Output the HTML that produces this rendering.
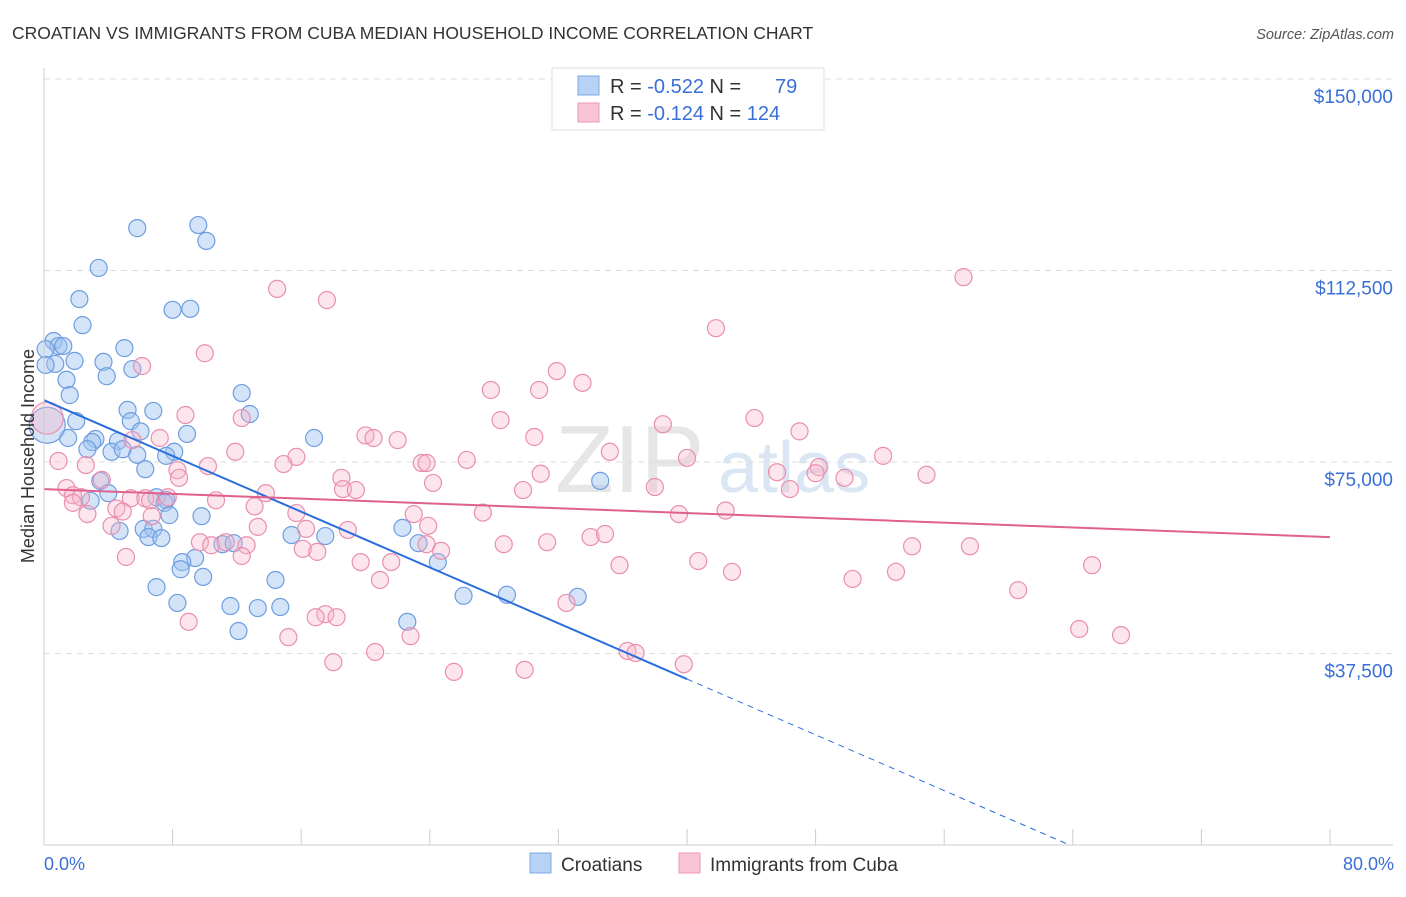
<!DOCTYPE html>
<html><head><meta charset="utf-8"><style>
body{margin:0;background:#fff;font-family:"Liberation Sans",sans-serif;}
svg text{font-family:"Liberation Sans",sans-serif;}
</style></head><body>
<svg id="chart" width="1406" height="892" xmlns="http://www.w3.org/2000/svg">
<text x="12" y="39" font-size="17.5" fill="#333">CROATIAN VS IMMIGRANTS FROM CUBA MEDIAN HOUSEHOLD INCOME CORRELATION CHART</text>
<text x="1394" y="39" font-size="14.5" fill="#555" font-style="italic" text-anchor="end">Source: ZipAtlas.com</text>
<text x="555" y="492" font-size="96" fill="#e6e6e6" font-family="Liberation Serif">ZIP</text>
<text x="718" y="492" font-size="72" fill="#dbe6f5">atlas</text>
<g id="grid"></g><g id="pts"></g><g id="lines"></g><g id="axes"></g>
<text transform="translate(34,456) rotate(-90)" font-size="18" fill="#333" text-anchor="middle">Median Household Income</text>
<text x="44" y="870" font-size="18" fill="#3a6fd8">0.0%</text>
<text x="1394" y="870" font-size="18" fill="#3a6fd8" text-anchor="end">80.0%</text>
<g>
<rect x="552" y="68" width="272" height="62" fill="#fff" stroke="#ddd"/>
<rect x="578" y="76" width="21" height="19" fill="#b7d2f5" stroke="#7fa8e3"/>
<rect x="578" y="103" width="21" height="19" fill="#f9c5d4" stroke="#ec9ab4"/>
<text x="610" y="93" font-size="20" fill="#333">R = <tspan fill="#3a6fd8">-0.522</tspan>   N =  <tspan fill="#3a6fd8" x="775">79</tspan></text>
<text x="610" y="120" font-size="20" fill="#333">R =  <tspan fill="#3a6fd8">-0.124</tspan>   N = <tspan fill="#3a6fd8">124</tspan></text>
</g>
<g>
<rect x="530" y="853" width="21" height="20" fill="#b7d2f5" stroke="#7fa8e3"/>
<text x="561" y="871" font-size="19" fill="#333">Croatians</text></g>
<g>
<rect x="679" y="853" width="21" height="20" fill="#f9c5d4" stroke="#ec9ab4"/>
<text x="710" y="871" font-size="19" fill="#333">Immigrants from Cuba</text></g>
</svg>
<script>
const yTicks=[37500,75000,112500,150000];
const yTickLabels=["$37,500","$75,000","$112,500","$150,000"];
const xTicks=[0,8,16,24,32,40,48,56,64,72,80];
const croX=[5.8,9.6,10.1,3.4,2.2,8.0,9.1,2.4,0.6,0.9,1.2,5.0,0.7,1.9,3.7,5.5,3.9,1.4,1.6,12.3,5.2,6.8,12.8,2.0,5.4,6.0,8.9,16.8,1.5,3.2,3.0,4.6,2.7,4.2,4.9,8.1,7.6,5.8,6.3,34.6,3.5,4.0,2.9,7.0,7.6,7.5,7.8,4.7,9.8,6.2,6.8,6.5,7.3,22.3,15.4,17.5,23.3,11.1,11.8,9.4,8.6,8.5,24.5,9.9,14.4,7.0,8.3,11.6,13.3,14.7,26.1,28.8,33.2,12.1,22.6,0.1,0.1,0.2];
const croY=[120.8,121.4,118.3,113.0,106.9,104.8,105.0,101.8,98.7,97.7,97.7,97.3,94.2,94.8,94.6,93.2,91.8,91.1,88.1,88.5,85.2,85.0,84.4,83.0,83.0,81.0,80.5,79.7,79.7,79.5,78.9,79.1,77.5,77.0,77.5,77.0,76.2,76.4,73.6,71.3,71.3,68.9,67.4,68.1,67.6,67.0,64.6,61.5,64.4,61.9,61.9,60.3,60.1,62.1,60.7,60.5,59.1,58.9,59.1,56.2,55.4,54.0,55.4,52.5,51.9,50.5,47.4,46.8,46.4,46.6,48.8,49.0,48.6,41.9,43.7,97.1,94.0,82.2];
const cubX=[57.2,14.5,17.6,41.8,10.0,6.1,31.9,33.5,27.8,30.8,44.2,8.8,12.3,28.4,38.5,47.0,20.0,20.5,22.0,30.5,5.5,7.2,52.2,11.9,15.7,35.2,26.3,40.0,23.5,23.8,14.9,45.6,48.2,2.6,0.9,8.3,10.2,54.9,30.9,18.5,48.0,49.8,24.2,3.6,1.4,8.4,38.0,29.8,46.4,18.6,19.4,13.8,1.8,2.3,5.4,6.3,7.7,6.6,10.7,13.1,4.5,4.9,27.3,42.4,1.8,2.7,15.7,39.5,23.0,6.7,23.9,4.2,13.3,18.9,16.3,9.7,10.4,11.3,12.6,34.0,34.9,31.3,28.6,23.8,24.7,16.1,17.0,5.1,12.3,19.7,21.6,35.8,40.7,54.0,57.6,65.2,20.9,42.8,50.3,53.0,60.6,32.5,17.5,16.9,18.2,9.0,15.2,22.8,64.4,67.0,36.3,36.8,20.6,18.0,39.8,25.5,29.9,0.2];
const cubY=[111.2,108.9,106.7,101.2,96.3,93.8,92.8,90.5,89.1,89.1,83.6,84.2,83.6,83.2,82.4,81.0,80.2,79.7,79.3,79.9,79.3,79.7,76.2,77.0,76.0,77.0,75.4,75.8,74.8,74.8,74.6,73.0,74.0,74.4,75.2,73.4,74.2,72.5,72.7,71.9,72.8,71.9,70.9,71.5,69.9,71.9,70.1,69.5,69.7,69.7,69.5,68.9,68.5,68.1,67.9,67.9,68.1,67.5,67.5,66.3,65.9,65.3,65.1,65.5,67.0,64.8,65.0,64.8,64.8,64.4,62.5,62.5,62.3,61.7,61.9,59.3,58.7,59.3,58.7,60.3,60.9,59.3,58.9,58.9,57.6,58.0,57.4,56.4,56.6,55.4,55.4,54.8,55.6,58.5,58.5,54.8,51.9,53.5,52.1,53.5,49.9,47.4,45.2,44.6,44.6,43.7,40.7,40.9,42.3,41.1,38.0,37.6,37.8,35.8,35.4,33.9,34.3,83.6];
const croTrend=[[0,87.1],[40,32.5]];
const croTrendExt=[[40,32.5],[63.8,0]];
const cubTrend=[[0,69.7],[80,60.3]];
const NS="http://www.w3.org/2000/svg";
const sx=p=>44+p*(1330-44)/80;
const sy=k=>845-k*1000*(845-79)/150000;
function mk(tag,attrs,parent){const e=document.createElementNS(NS,tag);for(const k in attrs)e.setAttribute(k,attrs[k]);document.getElementById(parent).appendChild(e);return e;}
let g=mk('line',{x1:44,x2:1393,y1:79,y2:79,stroke:'#ddd','stroke-dasharray':'6,5'},'grid');


yTicks.forEach((v,i)=>{
 const y=sy(v/1000);
 const l=mk('line',{x1:44,x2:1393,y1:y,y2:y,stroke:'#ddd','stroke-dasharray':'6,5'},'grid');
 
 
 const t=mk('text',{x:1393,y:y+24,'font-size':19,fill:'#3a6fd8','text-anchor':'end'},'axes');
 t.textContent=yTickLabels[i];
 
 
});
const ax=mk('line',{x1:44,x2:44,y1:68,y2:845,stroke:'#ccc'},'axes');


const bx=mk('line',{x1:44,x2:1393,y1:845,y2:845,stroke:'#ccc'},'axes');


xTicks.forEach(p=>{
 const t=mk('line',{x1:sx(p),x2:sx(p),y1:829,y2:845,stroke:'#ccc'},'axes');
 
 
});
croX.forEach((p,i)=>{
 const big=i===croX.length-1;
 const c=mk('circle',{cx:sx(p),cy:sy(croY[i]),r:big?18:8.5,fill:'rgba(160,195,240,0.45)',stroke:'#6e9de0','stroke-width':1.2},'pts');
 
 
});
cubX.forEach((p,i)=>{
 const big=i===cubX.length-1;
 const c=mk('circle',{cx:sx(p),cy:sy(cubY[i]),r:big?16:8.5,fill:'rgba(245,180,200,0.35)',stroke:'#e98fae','stroke-width':1.2},'pts');
 
 
});
const l1=mk('line',{x1:sx(croTrend[0][0]),y1:sy(croTrend[0][1]),x2:sx(croTrend[1][0]),y2:sy(croTrend[1][1]),stroke:'#2a6edb','stroke-width':2},'lines');


const l2=mk('line',{x1:sx(croTrendExt[0][0]),y1:sy(croTrendExt[0][1]),x2:sx(croTrendExt[1][0]),y2:sy(croTrendExt[1][1]),stroke:'#2a6edb','stroke-width':1,'stroke-dasharray':'6,5'},'lines');


const l3=mk('line',{x1:sx(cubTrend[0][0]),y1:sy(cubTrend[0][1]),x2:sx(cubTrend[1][0]),y2:sy(cubTrend[1][1]),stroke:'#e0608f','stroke-width':2},'lines');


</script>
</body></html>
